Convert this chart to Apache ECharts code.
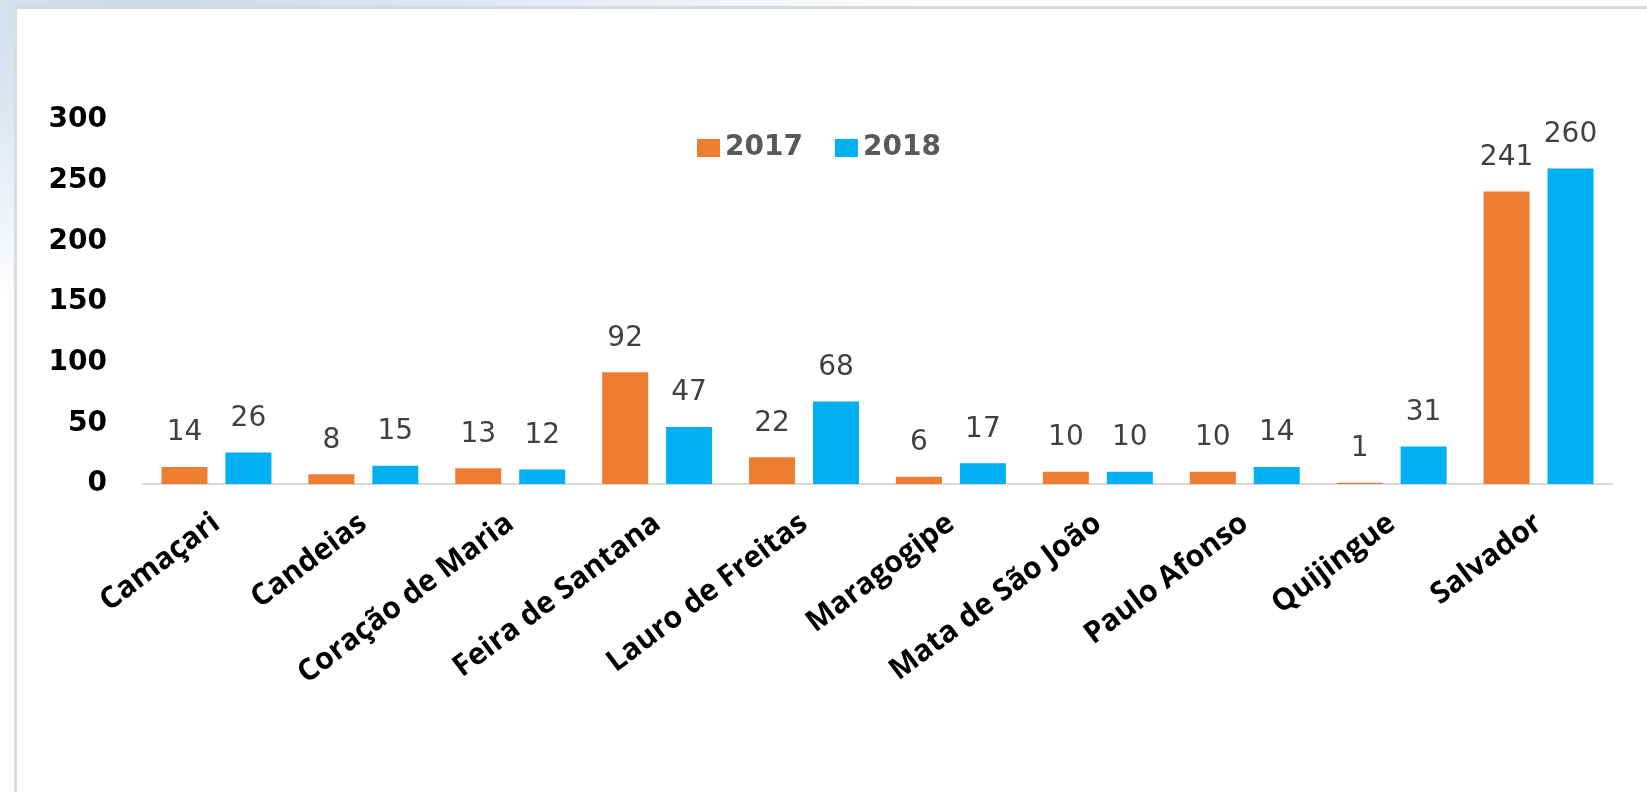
<!DOCTYPE html>
<html>
<head>
<meta charset="utf-8">
<script src="https://cdn.jsdelivr.net/npm/echarts@6/dist/echarts.min.js"></script>
<style>
  html, body { margin: 0; padding: 0; width: 1647px; height: 792px; overflow: hidden; }
  body {
    background:
      radial-gradient(ellipse 800px 300px at 150px 10px, #c9d9ea 0%, #e1eaf4 45%, rgba(255,255,255,0) 100%),
      #ffffff;
  }
  #panel {
    position: absolute; left: 14px; top: 6px; right: 0; bottom: 0;
    background: #ffffff;
    border-top: 3px solid #d9d9d9;
    border-left: 3px solid #dcdcdc;
  }
  #main { position: absolute; left: 0; top: 0; width: 1647px; height: 792px; }
</style>
</head>
<body>
<div id="panel"></div>
<div id="main"></div>
<script>
// municipios e totais por ano
var cidades = ['Camaçari', 'Candeias', 'Coração de Maria', 'Feira de Santana', 'Lauro de Freitas',
               'Maragogipe', 'Mata de São João', 'Paulo Afonso', 'Quijingue', 'Salvador'];
var anos = ['2017', '2018'];
var dados2017 = [14, 8, 13, 92, 22, 6, 10, 10, 1, 241];
var dados2018 = [26, 15, 12, 47, 68, 17, 10, 14, 31, 260];
var eixoY = { min: 0, max: 300, passo: 50 };

var myChart = echarts.init(document.getElementById('main'));

var rotulo = {
    show: true,
    position: 'top',
    distance: 20,
    color: '#404040',
    fontFamily: 'DejaVu Sans',
    fontSize: 28
};

option = {
    color: ['#ED7D31', '#00B0F0'],
    animation: false,
    legend: {
        data: anos,
        left: 692,
        top: 129,
        itemWidth: 23,
        itemHeight: 18,
        itemGap: 32,
        icon: 'rect',
        textStyle: {
            color: '#595959',
            fontFamily: 'DejaVu Sans',
            fontWeight: 'bold',
            fontSize: 28
        }
    },
    grid: {
        left: 143,
        right: 35,
        top: 120,
        bottom: 308,
        outerBoundsMode: 'none'
    },
    xAxis: [
        {
            type: 'category',
            data: cidades,
            axisTick: { show: false },
            axisLine: { lineStyle: { color: '#d9d9d9', width: 2 } },
            axisLabel: {
                interval: 0,
                rotate: 37,
                margin: 36,
                color: '#000000',
                fontFamily: 'Open Sans',
                fontWeight: 'bold',
                fontSize: 30
            }
        }
    ],
    yAxis: [
        {
            type: 'value',
            min: eixoY.min,
            max: eixoY.max,
            interval: eixoY.passo,
            splitLine: { show: false },
            axisLine: { show: false },
            axisTick: { show: false },
            axisLabel: {
                margin: 36,
                color: '#000000',
                fontFamily: 'DejaVu Sans',
                fontWeight: 'bold',
                fontSize: 28
            }
        }
    ],
    series: [
        {
            name: anos[0],
            type: 'bar',
            barWidth: 46,
            barGap: '39%',
            label: rotulo,
            data: dados2017
        },
        {
            name: anos[1],
            type: 'bar',
            barWidth: 46,
            barGap: '39%',
            label: rotulo,
            data: dados2018
        }
    ]
};

myChart.setOption(option);
</script>
</body>
</html>
